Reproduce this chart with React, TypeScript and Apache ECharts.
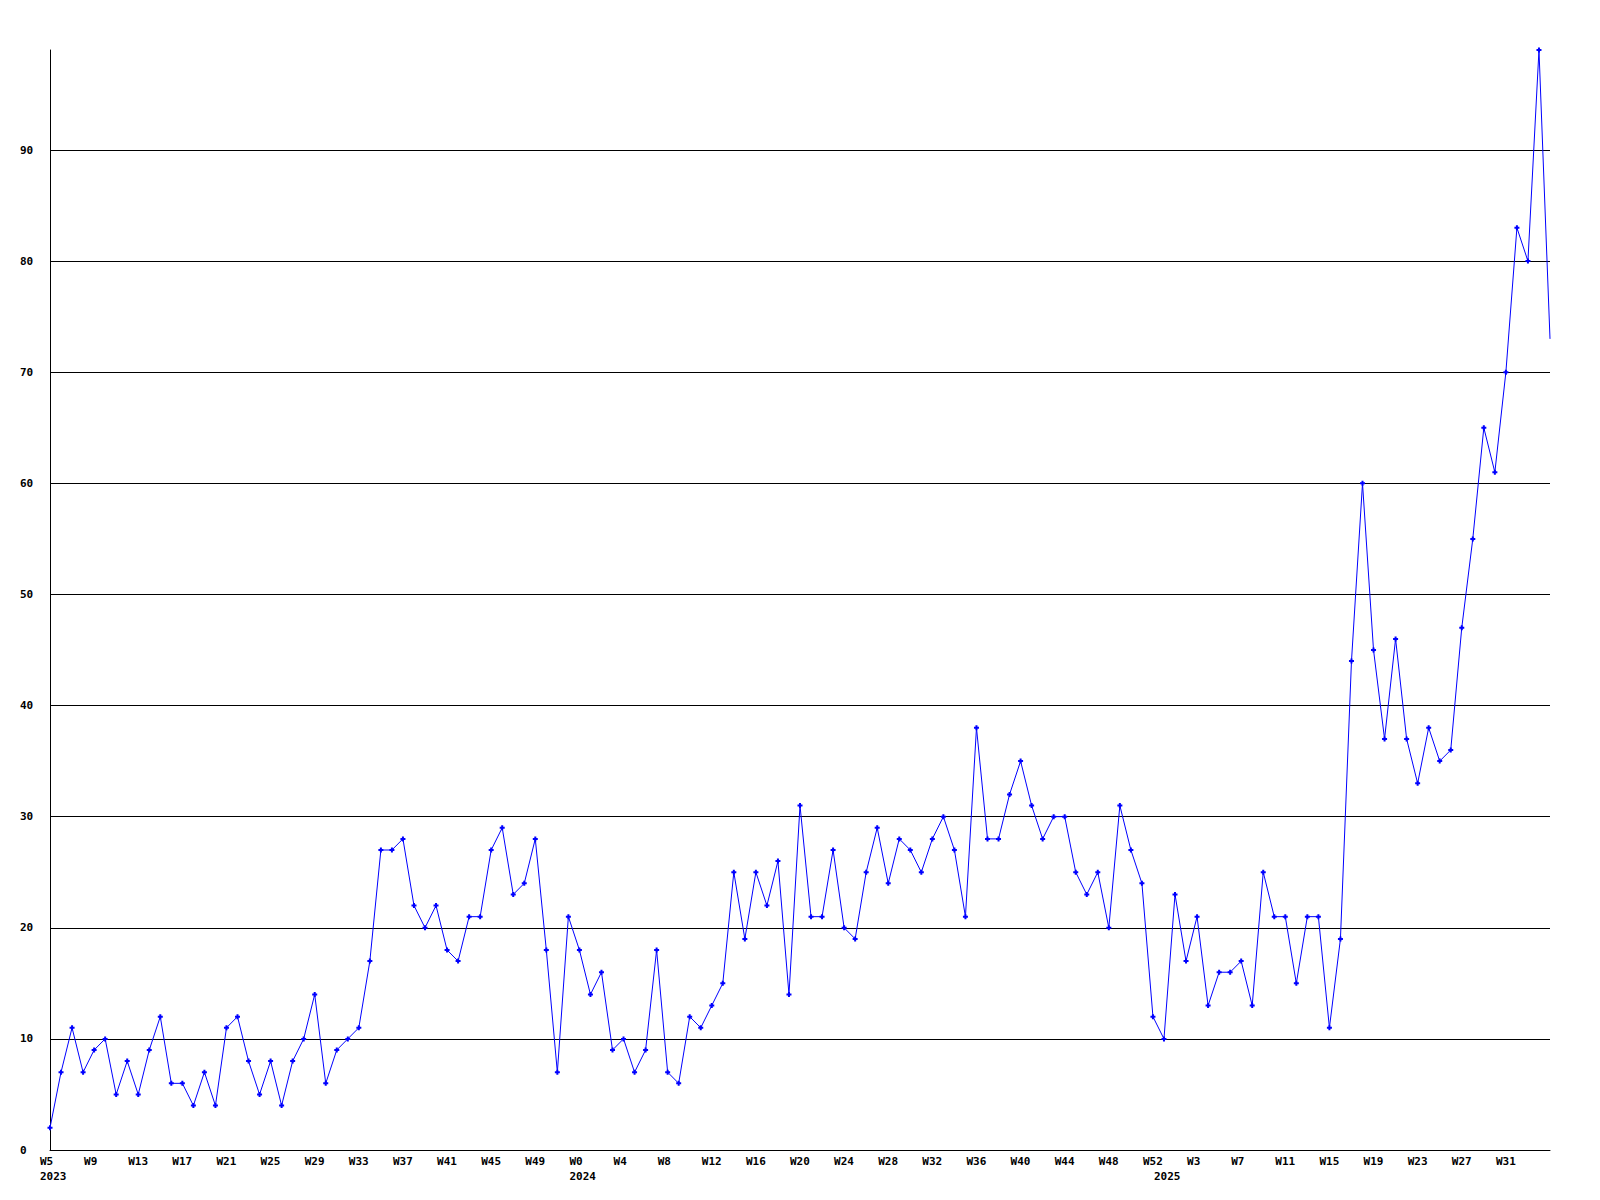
import { useEffect, useRef } from "react";
import * as echarts from "echarts";

// Week ranges per year (category axis)
const years = [2023, 2024, 2025];
const firstWeeks = [5, 0, 0];
const lastWeeks = [52, 52, 35];

// Weekly values, 2023 W5 .. 2025 W35
const values = [
  2, 7, 11, 7, 9, 10, 5, 8, 5, 9, 12, 6, 6, 4, 7, 4, 11, 12, 8, 5, 8, 4, 8, 10,
  14, 6, 9, 10, 11, 17, 27, 27, 28, 22, 20, 22, 18, 17, 21, 21, 27, 29, 23, 24, 28, 18, 7, 21,
  18, 14, 16, 9, 10, 7, 9, 18, 7, 6, 12, 11, 13, 15, 25, 19, 25, 22, 26, 14, 31, 21, 21,
  27, 20, 19, 25, 29, 24, 28, 27, 25, 28, 30, 27, 21, 38, 28, 28, 32, 35, 31, 28, 30, 30, 25, 23,
  25, 20, 31, 27, 24, 12, 10, 23, 17, 21, 13, 16, 16, 17, 13, 25, 21, 21, 15, 21, 21, 11, 19,
  44, 60, 45, 37, 46, 37, 33, 38, 35, 36, 47, 55, 65, 61, 70, 83, 80, 99, 73,
];

const yMin = 0;
const yMax = 99;
const yStep = 10;
const labelEvery = 4;

const categories: string[] = [];
const weekLabels: string[] = [];
const yearLabels: string[] = [];
years.forEach((y, k) => {
  for (let w = firstWeeks[k]; w <= lastWeeks[k]; w++) {
    categories.push(`${y}-W${w}`);
    weekLabels.push(`W${w}`);
    yearLabels.push(w === firstWeeks[k] ? String(y) : "");
  }
});

const FONT = "DejaVu Sans Mono";

export default function App() {
  const ref = useRef<HTMLDivElement>(null);
  useEffect(() => {
    const chart = echarts.init(ref.current!, null, { renderer: "svg" });
    const last = values.length - 1;
    const data = values.map((v, i) =>
      i === last ? { value: v, symbol: "none" } : v
    );
    const labelBase = {
      fontFamily: FONT,
      fontWeight: "bold" as const,
      fontSize: 11,
      color: "#000",
    };
    chart.setOption({
      animation: false,
      backgroundColor: "#ffffff",
      grid: { left: 50, right: 50, top: 50, bottom: 50, containLabel: false },
      xAxis: [
        {
          type: "category",
          data: categories,
          boundaryGap: false,
          position: "bottom",
          axisLine: { show: true, lineStyle: { color: "#000", width: 1 } },
          axisTick: { show: false },
          splitLine: { show: false },
          axisLabel: {
            ...labelBase,
            interval: (i: number) => i % labelEvery === 0 && i < last,
            margin: 6,
            align: "left",
            padding: [0, 0, 0, -10],
            formatter: (_v: string, i: number) => weekLabels[i],
          },
        },
        {
          type: "category",
          data: categories,
          boundaryGap: false,
          position: "bottom",
          offset: 15,
          axisLine: { show: false },
          axisTick: { show: false },
          splitLine: { show: false },
          axisLabel: {
            ...labelBase,
            interval: (i: number) => yearLabels[i] !== "",
            margin: 6,
            align: "left",
            padding: [0, 0, 0, -10],
            formatter: (_v: string, i: number) => yearLabels[i],
          },
        },
      ],
      yAxis: {
        type: "value",
        min: yMin,
        max: yMax,
        interval: yStep,
        axisLine: { show: true, lineStyle: { color: "#000", width: 1 } },
        axisTick: { show: false },
        splitLine: {
          show: true,
          showMaxLine: false,
          lineStyle: { color: "#000", width: 1 },
        },
        axisLabel: {
          ...labelBase,
          margin: 30,
          align: "left",
          showMaxLabel: false,
          formatter: (v: number) => (v % yStep === 0 ? String(v) : ""),
        },
      },
      series: [
        {
          type: "line",
          xAxisIndex: 0,
          data,
          symbol: "path://M1.5,0H3.5V1.5H5V3.5H3.5V5H1.5V3.5H0V1.5H1.5Z",
          symbolSize: 5,
          showAllSymbol: true,
          lineStyle: { color: "#0000ff", width: 1 },
          itemStyle: { color: "#0000ff" },
          clip: false,
        },
      ],
    });
    return () => chart.dispose();
  }, []);
  return (
    <div
      ref={ref}
      style={{
        position: "absolute",
        left: 0,
        top: 0,
        width: 1600,
        height: 1200,
        background: "#fff",
      }}
    />
  );
}
